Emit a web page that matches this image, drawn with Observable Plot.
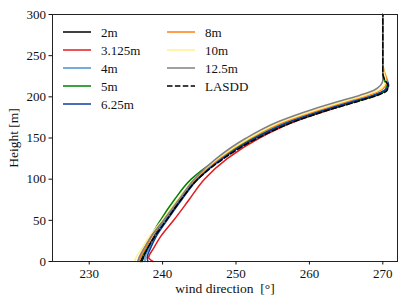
<!DOCTYPE html>
<html>
<head>
<meta charset="utf-8">
<script src="https://cdn.jsdelivr.net/npm/d3@7"></script>
<script src="https://cdn.jsdelivr.net/npm/@observablehq/plot@0.6"></script>
<style>
  html, body { margin: 0; padding: 0; background: white; }
  #wrap { position: relative; width: 407px; height: 305px; font-family: 'Liberation Serif', serif; }
  #wrap svg text { font-family: 'Liberation Serif', serif; }
  .leg { position: absolute; font-size: 13px; color: #111; line-height: 1; }
  .leg .row { position: absolute; white-space: nowrap; }
  .leg svg { position: absolute; top: -5px; left: 0; }
  .leg span { position: absolute; top: -6px; left: 38px; }
</style>
</head>
<body>
<div id="wrap"></div>
<script>
const series = ["2m", "3.125m", "4m", "5m", "6.25m", "8m", "10m", "12.5m", "LASDD"];
const colors = ["#000000", "#e41a1c", "#4a8fd0", "#008000", "#0b3f9c", "#ff7f0e", "#fff08c", "#808080", "#000000"];
const heights = [0, 5, 15, 30, 50, 75, 100, 125, 150, 170, 185, 195, 202, 208, 214, 220, 228, 240, 300];

const dir_2m    = [237.2, 237.4, 237.9, 238.8, 240.3, 242.4, 244.6, 248.0, 252.6, 257.5, 262.5, 266.3, 268.9, 270.3, 270.6, 270.3, 270.0, 270.0, 270.0];
const dir_3125m = [238.7, 238.1, 238.7, 239.7, 241.5, 243.6, 245.7, 248.8, 253.2, 258.0, 263.0, 266.6, 269.1, 270.4, 270.6, 270.3, 270.0, 270.0, 270.0];
const dir_4m    = [237.6, 237.6, 238.1, 238.9, 240.3, 242.3, 244.5, 247.9, 252.3, 257.0, 262.0, 265.8, 268.6, 270.2, 270.6, 270.4, 270.0, 270.0, 270.0];
const dir_5m    = [237.1, 237.2, 237.7, 238.4, 239.7, 241.6, 243.9, 247.6, 252.5, 257.6, 262.7, 266.5, 269.0, 270.4, 270.5, 270.2, 270.0, 270.0, 270.0];
const dir_625m  = [238.0, 237.9, 238.3, 239.1, 240.6, 242.6, 244.8, 248.1, 252.6, 257.4, 262.4, 266.2, 268.8, 270.3, 270.8, 270.6, 270.1, 270.0, 270.0];
const dir_8m    = [236.8, 237.0, 237.6, 238.5, 240.1, 242.2, 244.4, 247.7, 252.0, 256.7, 261.6, 265.3, 268.0, 269.7, 270.4, 270.6, 270.3, 270.0, 270.0];
const dir_10m   = [236.2, 236.4, 237.1, 238.2, 239.9, 242.0, 244.3, 247.5, 251.8, 256.3, 261.2, 264.9, 267.6, 269.4, 270.2, 270.4, 270.2, 270.0, 270.0];
const dir_125m  = [236.6, 236.8, 237.4, 238.4, 240.1, 242.2, 244.3, 247.3, 251.4, 255.8, 260.5, 264.2, 266.9, 268.8, 269.7, 270.0, 270.0, 270.0, 270.0];
const dir_lasdd = [237.0, 237.3, 237.9, 238.9, 240.5, 242.5, 244.8, 248.3, 253.0, 258.0, 263.0, 266.8, 269.3, 270.6, 270.7, 270.3, 270.0, 270.0, 270.0];

const xTicks = [230, 240, 250, 260, 270];
const yTicks = [0, 50, 100, 150, 200, 250, 300];

const allDirs = [dir_2m, dir_3125m, dir_4m, dir_5m, dir_625m, dir_8m, dir_10m, dir_125m, dir_lasdd];
const rows = series.flatMap((s, i) => heights.map((h, j) => ({s, h, d: allDirs[i][j]})));
const solid = rows.filter(r => r.s !== "LASDD");
const dashed = rows.filter(r => r.s === "LASDD");

const chart = Plot.plot({
  width: 407, height: 305,
  marginLeft: 52, marginRight: 10, marginTop: 14, marginBottom: 44,
  style: {fontFamily: "'Liberation Serif', serif", fontSize: "13px", background: "white", color: "#111"},
  x: {domain: [225, 272]},
  y: {domain: [0, 300]},
  color: {domain: series, range: colors},
  marks: [
    Plot.line(solid, {x: "d", y: "h", z: "s", stroke: "s", strokeWidth: 1.5, curve: "monotone-y"}),
    Plot.line(dashed, {x: "d", y: "h", stroke: "black", strokeWidth: 1.5, strokeDasharray: "5.5,2.4", curve: "monotone-y"}),
    Plot.frame({stroke: "#222", strokeWidth: 1}),
    Plot.axisX({ticks: xTicks, tickSize: 3.5, tickPadding: 4, fontSize: 13, label: null}),
    Plot.axisX({ticks: [], tickSize: 0, label: "wind direction  [°]", labelAnchor: "center", labelArrow: "none", labelOffset: 31, fontSize: 13.5}),
    Plot.axisY({ticks: yTicks, tickSize: 3.5, tickPadding: 3, fontSize: 13, label: null}),
    Plot.axisY({ticks: [], tickSize: 0, label: "Height [m]", labelAnchor: "center", labelArrow: "none", labelOffset: 44, fontSize: 13.5})
  ]
});
const wrap = document.getElementById("wrap");
wrap.appendChild(chart);

// legend (inside plot area, two columns)
const leg = document.createElement("div");
leg.className = "leg";
leg.style.left = "0px"; leg.style.top = "0px";
const colX = [63, 167];
const rowY = [32, 49.5, 67.5, 86, 104];
series.forEach((s, i) => {
  const col = i < 5 ? 0 : 1;
  const r = i < 5 ? i : i - 5;
  const row = document.createElement("div");
  row.className = "row";
  row.style.left = colX[col] + "px";
  row.style.top = rowY[r] + "px";
  const dash = s === "LASDD" ? 'stroke-dasharray="5.5,2.4"' : "";
  row.innerHTML = `<svg width="30" height="10"><line x1="0" x2="28" y1="5" y2="5" stroke="${colors[i]}" stroke-width="1.5" ${dash}/></svg><span>${s}</span>`;
  leg.appendChild(row);
});
wrap.appendChild(leg);
</script>
</body>
</html>
